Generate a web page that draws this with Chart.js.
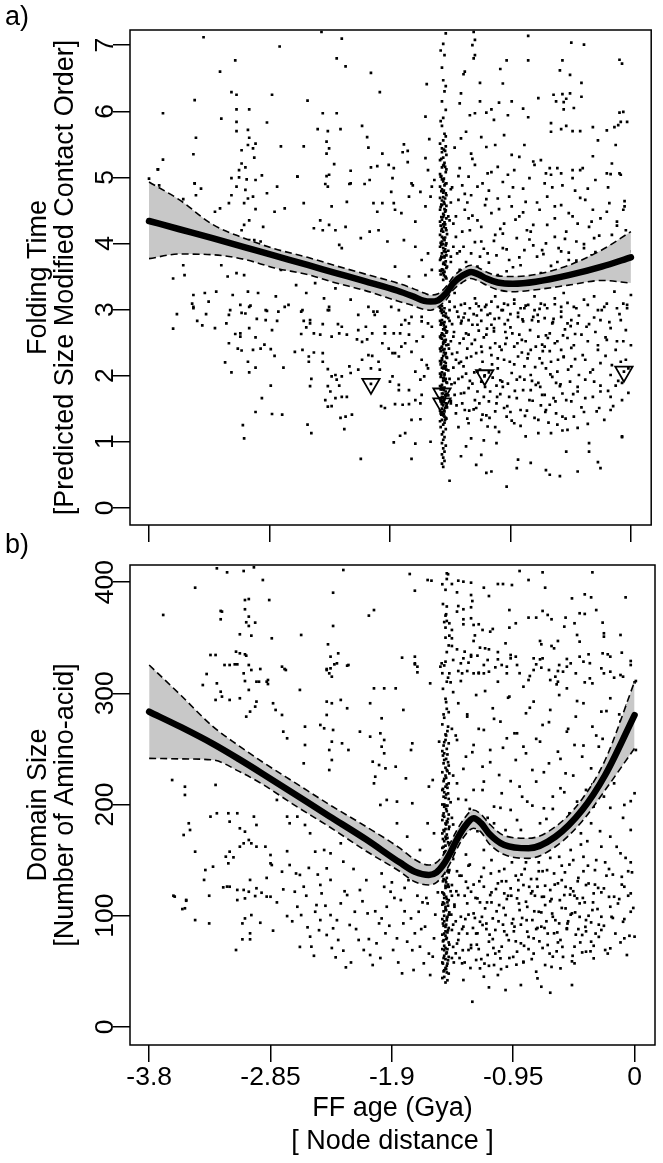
<!DOCTYPE html>
<html><head><meta charset="utf-8">
<script src="https://cdn.jsdelivr.net/npm/chart.js@4.4.1/dist/chart.umd.min.js"></script>
<style>
html,body{margin:0;padding:0;background:#fff;}
#wrap{position:relative;width:663px;height:1163px;overflow:hidden;background:#fff}
canvas{position:absolute;left:0}
#ca{top:0}
#cb{top:530px}
</style></head><body>
<div id="wrap"><canvas id="ca" width="663" height="546"></canvas><canvas id="cb" width="663" height="633"></canvas></div>
<script>
// ---------- axis ticks ----------
const xTicks = [-3.8, -2.85, -1.9, -0.95, 0];
const xTickLabels = ['-3.8', '-2.85', '-1.9', '-0.95', '0'];
const yTicksA = [0, 1, 2, 3, 4, 5, 6, 7];
const yTicksB = [0, 100, 200, 300, 400];

// ---------- panel a: smooth fit and confidence band ----------
const curveXA = [-3.8,-3.56,-3.30,-3.05,-2.81,-2.55,-2.34,-2.1,-1.84,-1.72,-1.63,-1.58,-1.52,-1.46,-1.40,-1.33,-1.26,-1.20,-1.14,-1.05,-0.93,-0.75,-0.49,-0.23,0];
const fitA   = [4.34,4.215,4.08,3.945,3.815,3.675,3.56,3.43,3.285,3.20,3.13,3.12,3.14,3.24,3.40,3.51,3.57,3.53,3.47,3.41,3.39,3.42,3.52,3.65,3.79];
const upperA = [4.93,4.66,4.29,4.08,3.92,3.79,3.67,3.54,3.40,3.32,3.25,3.22,3.24,3.34,3.50,3.61,3.67,3.63,3.57,3.51,3.50,3.53,3.67,3.90,4.18];
const lowerA = [3.77,3.84,3.83,3.76,3.63,3.53,3.41,3.29,3.13,3.06,3.00,2.99,3.04,3.14,3.30,3.41,3.47,3.43,3.37,3.30,3.27,3.30,3.37,3.44,3.40];
const trianglesA = [[-2.05,1.875],[-1.49,1.73],[-1.49,1.58],[-1.153,2.006],[-0.055,2.06]];

// ---------- panel a: scatter ----------
const aUpperLeft = [[-3.37,7.12],[-3.12,6.77],[-3.24,6.60],[-3.44,6.17],[-3.69,5.97],[-3.23,5.89],[-3.15,6.29],[-3.11,6.25],[-3.11,6.03],[-3.01,6.03],[-3.11,5.84],[-3.11,5.70],[-3.02,5.72],[-3.01,5.60],[-2.96,5.51],[-3.02,5.49],[-2.98,5.44],[-3.07,5.41],[-2.97,5.30],[-3.43,5.60],[-3.45,5.35],[-3.69,5.27],[-3.73,5.12],[-3.07,5.21],[-3.04,5.15],[-3.09,5.11],[-2.91,5.03],[-3.15,4.99],[-3.03,4.97],[-3.44,4.91],[-2.87,5.83],[-2.83,6.25],[-2.77,6.98],[-2.76,5.47],[-2.58,5.47],[-2.55,6.16],[-2.63,5.01],[-2.44,7.20],[-2.28,7.10],[-2.32,6.80],[-2.25,6.68],[-2.05,6.58],[-1.98,6.29],[-2.43,5.97],[-2.32,5.97],[-2.47,5.73],[-2.39,5.70],[-2.29,5.73],[-2.40,5.54],[-2.38,5.44],[-2.40,5.36],[-2.34,5.20],[-2.40,5.02],[-2.41,4.90],[-2.12,5.78],[-2.08,5.61],[-2.07,5.45],[-1.96,5.36],[-2.05,5.15],[-2.00,5.17],[-2.21,5.10],[-2.06,4.96],[-2.10,4.90],[-2.22,4.90],[-1.88,4.99],[-1.79,5.50],[-1.76,5.40],[-1.80,5.38],[-1.76,5.23],[-1.72,4.88],[-1.61,6.41],[-1.62,5.92],[-1.59,5.58],[-1.62,5.29],[-1.57,4.86]];
const aCenterLeft = [[-3.80,4.98],[-3.72,4.88],[-3.73,5.12],[-3.53,4.67],[-3.43,4.73],[-3.44,4.91],[-3.39,4.83],[-3.28,4.48],[-3.24,4.53],[-3.17,4.61],[-3.15,4.73],[-3.11,4.86],[-3.09,5.00],[-3.04,4.81],[-3.05,4.61],[-3.02,4.68],[-2.98,4.71],[-2.96,4.96],[-2.96,4.52],[-3.05,4.28],[-3.07,4.20],[-3.01,4.35],[-2.90,4.25],[-3.01,4.05],[-2.97,4.05],[-2.92,4.03],[-2.87,4.76],[-2.81,4.48],[-2.79,4.86],[-2.73,4.53],[-2.63,5.01],[-2.58,4.61],[-2.50,4.23],[-2.45,4.35],[-2.43,4.20],[-2.39,4.86],[-2.38,5.04],[-2.36,4.56],[-2.38,4.28],[-2.33,4.20],[-2.24,4.63],[-2.25,4.25],[-2.30,3.98],[-2.28,3.93],[-2.21,4.91],[-2.13,4.08],[-2.06,4.18],[-2.03,4.61],[-2.00,4.48],[-1.99,4.20],[-1.96,4.61],[-1.92,4.03],[-1.91,5.19],[-1.89,4.78],[-1.86,4.51],
[-3.61,3.47],[-3.52,3.52],[-3.53,3.67],[-3.45,3.22],[-3.45,3.02],[-3.36,3.25],[-3.27,3.27],[-3.23,3.67],[-3.18,3.50],[-3.14,3.22],[-3.11,3.55],[-3.05,3.52],[-3.02,3.27],[-3.01,3.04],[-2.94,3.25],[-2.88,2.99],[-2.80,3.20],[-2.76,3.60],[-2.73,3.04],[-2.64,3.37],[-2.59,2.99],[-2.56,3.25],[-2.53,2.84],[-2.49,3.40],[-2.42,3.17],[-2.38,2.99],[-2.33,3.32],[-2.28,2.74],[-2.21,3.15],[-2.15,2.92],[-2.07,3.04],[-2.04,3.35],[-2.00,2.97],[-1.94,2.74],[-1.89,3.04]];
const aLowerLeft = [[-3.58,2.93],[-3.61,2.71],[-3.45,3.04],[-3.46,3.09],[-3.35,2.93],[-3.38,2.76],[-3.42,2.83],[-3.28,2.72],[-3.33,3.12],[-3.19,2.79],[-3.17,2.92],[-3.16,2.99],[-3.07,2.95],[-3.04,2.94],[-3.08,3.07],[-3.00,3.06],[-3.12,2.63],[-3.08,2.64],[-3.08,2.59],[-3.01,2.72],[-2.96,2.58],[-2.95,2.86],[-2.88,2.84],[-2.87,2.98],[-2.83,2.69],[-2.79,2.83],[-2.78,2.97],[-3.17,2.49],[-3.10,2.41],[-3.07,2.38],[-2.98,2.39],[-2.92,2.41],[-2.89,2.47],[-2.84,2.40],[-2.81,2.30],[-3.20,2.20],[-3.15,2.05],[-3.02,2.21],[-3.01,2.05],[-2.96,2.12],[-2.74,2.12],[-2.84,1.85],[-2.91,1.66],[-2.96,1.45],[-2.83,1.42],[-2.75,1.41],[-3.06,1.25],[-3.05,1.05],
[-2.70,3.07],[-2.60,2.97],[-2.60,2.63],[-2.58,2.83],[-2.53,2.79],[-2.56,2.73],[-2.50,2.64],[-2.45,2.62],[-2.39,2.99],[-2.38,3.04],[-2.43,2.78],[-2.31,2.78],[-2.36,2.59],[-2.30,2.64],[-2.24,2.62],[-2.15,2.69],[-2.09,2.74],[-2.03,2.97],[-2.02,2.92],[-2.04,2.64],[-2.08,2.55],[-2.12,2.51],[-2.16,2.55],[-1.94,2.74],[-1.96,2.49],[-1.94,2.64],
[-2.65,2.36],[-2.59,2.39],[-2.54,2.29],[-2.50,2.35],[-2.43,2.34],[-2.54,2.21],[-2.43,2.21],[-2.39,2.10],[-2.36,1.99],[-2.33,2.01],[-2.32,1.94],[-2.28,1.99],[-2.30,1.85],[-2.39,1.84],[-2.37,1.76],[-2.33,1.66],[-2.41,1.63],[-2.39,1.53],[-2.36,1.54],[-2.22,2.14],[-2.21,2.04],[-2.28,1.68],[-2.24,1.68],[-2.15,2.09],[-2.07,2.31],[-2.05,2.11],[-1.99,2.21],[-1.98,2.09],[-2.29,1.36],[-2.25,1.38],[-2.20,1.41],[-2.26,1.19],[-2.55,1.26],[-2.52,1.13],[-2.53,1.84],[-2.52,1.95],[-2.12,2.24],[-2.04,2.30],[-2.13,0.74]];
const aNearStrip = [[-1.97,1.54],[-1.94,1.51],[-1.86,1.57],[-1.80,1.56],[-1.75,1.57],[-1.88,1.99],[-1.90,1.91],[-1.83,1.86],[-1.75,1.78],[-1.83,1.78],[-1.70,2.06],[-1.66,1.94],[-1.63,1.99],[-1.61,2.16],[-1.60,2.11],[-1.65,2.24],[-1.73,2.36],[-1.78,2.49],[-1.81,2.44],[-1.83,2.29],[-1.86,2.34],[-1.69,2.52],[-1.64,2.59],[-1.65,2.82],[-1.60,2.79],[-1.73,2.89],[-1.78,2.84],[-1.81,2.77],[-1.82,2.64],[-1.87,2.64],[-1.75,2.62],[-1.91,2.41],[-1.88,2.34],[-1.73,1.33],[-1.66,1.34],[-1.87,0.99],[-1.82,1.09],[-1.78,1.13],[-1.70,0.97],[-1.58,1.00],[-1.73,0.74],[-1.65,1.71],[-1.70,1.63],[-1.66,1.58],
[-1.87,4.61],[-1.81,4.46],[-1.75,4.71],[-1.70,4.33],[-1.66,4.78],[-1.62,4.56],[-1.58,4.71],[-1.79,4.05],[-1.70,3.95],[-1.65,3.75],[-1.60,3.85],[-1.86,3.65],[-1.75,3.50],[-1.62,3.52],[-1.57,3.60],[-1.83,2.99],[-1.75,2.79],[-1.65,2.89],[-1.57,2.74],[-1.87,5.14],[-1.73,4.91],[-1.60,5.11],[-1.55,4.96]];
const aStrip = [[-1.48,0.62],[-1.49,0.67],[-1.47,0.71],[-1.48,0.76],[-1.49,0.81],[-1.47,0.85],[-1.48,0.90],[-1.46,0.94],[-1.49,0.98],[-1.48,1.03],[-1.47,1.07],[-1.49,1.11],[-1.48,1.15],[-1.46,1.19],[-1.50,1.22],[-1.48,1.26],[-1.47,1.29],[-1.49,1.33],[-1.46,1.36],[-1.48,1.40],[-1.50,1.43],[-1.47,1.46],[-1.49,1.50],[-1.45,1.52],[-1.48,1.55],[-1.46,1.58],[-1.50,1.61],[-1.47,1.64],[-1.49,1.68],[-1.44,1.70],[-1.48,1.73],[-1.46,1.76],[-1.50,1.79],[-1.47,1.82],[-1.49,1.86],[-1.45,1.89],[-1.48,1.92],[-1.46,1.95],[-1.50,1.98],[-1.47,2.01],[-1.49,2.05],[-1.44,2.08],[-1.48,2.11],[-1.46,2.14],[-1.50,2.17],[-1.47,2.21],[-1.49,2.24],[-1.45,2.27],[-1.48,2.30],[-1.46,2.34],[-1.50,2.37],[-1.47,2.40],[-1.49,2.44],[-1.44,2.47],[-1.48,2.50],[-1.46,2.54],[-1.50,2.57],[-1.47,2.60],[-1.49,2.64],[-1.45,2.67],[-1.48,2.70],[-1.46,2.74],[-1.50,2.77],[-1.47,2.81],[-1.49,2.84],[-1.44,2.87],[-1.48,2.91],[-1.46,2.94],[-1.50,2.98],[-1.47,3.02],[-1.49,3.05],[-1.48,3.45],[-1.46,3.49],[-1.50,3.53],[-1.47,3.57],[-1.49,3.61],[-1.45,3.65],[-1.48,3.69],[-1.46,3.73],[-1.50,3.77],[-1.47,3.81],[-1.49,3.85],[-1.44,3.89],[-1.48,3.93],[-1.46,3.97],[-1.50,4.01],[-1.47,4.05],[-1.49,4.10],[-1.45,4.14],[-1.48,4.18],[-1.46,4.23],[-1.50,4.27],[-1.47,4.32],[-1.49,4.36],[-1.44,4.41],[-1.48,4.45],[-1.46,4.50],[-1.50,4.55],[-1.47,4.60],[-1.49,4.65],[-1.48,4.70],[-1.46,4.76],[-1.49,4.82],[-1.47,4.88],[-1.48,4.94],[-1.50,5.01],[-1.46,5.08],[-1.49,5.15],[-1.47,5.22],[-1.48,5.30],[-1.49,5.38],[-1.46,5.47],[-1.48,5.56],[-1.47,5.66],[-1.49,5.78],[-1.48,5.90],[-1.46,6.02],[-1.49,6.15],[-1.47,6.30],[-1.48,6.47],[-1.49,6.66],[-1.47,6.85],[-1.48,7.02],[-1.46,7.18],
[-1.47,1.38],[-1.49,1.57],[-1.48,1.81],[-1.47,2.03],[-1.49,2.26],[-1.48,2.48],[-1.47,2.72],[-1.49,2.95],[-1.48,3.55],[-1.47,3.79],[-1.49,4.03],[-1.48,4.29],[-1.47,4.52],[-1.48,1.67],[-1.46,2.19],[-1.48,2.62],[-1.46,3.87],[-1.48,4.08],[-1.43,1.95],[-1.42,2.52],[-1.43,3.12],[-1.42,3.72],[-1.43,4.35],[-1.42,1.62],[-1.43,2.83],[-1.42,4.82]];
const aStripDense = [[-1.505,1.31],[-1.455,1.35],[-1.475,1.42],[-1.505,1.47],[-1.455,1.54],[-1.475,1.60],[-1.505,1.66],[-1.455,1.72],[-1.475,1.78],[-1.505,1.84],[-1.455,1.90],[-1.475,1.97],[-1.505,2.03],[-1.455,2.09],[-1.475,2.15],[-1.505,2.22],[-1.455,2.28],[-1.475,2.35],[-1.505,2.41],[-1.455,2.46],[-1.475,2.53],[-1.505,2.59],[-1.455,2.65],[-1.475,2.76],[-1.505,2.83],[-1.455,2.89],[-1.475,2.97],[-1.505,3.03],[-1.455,3.47],[-1.475,3.52],[-1.505,3.59],[-1.455,3.63],[-1.475,3.71],[-1.505,3.75],[-1.455,3.82],[-1.475,3.88],[-1.505,3.95],[-1.455,4.00],[-1.475,4.07],[-1.505,4.13],[-1.455,4.20],[-1.475,4.25],[-1.505,4.33],[-1.455,4.38],[-1.475,4.43],[-1.505,4.51],[-1.455,4.57],[-1.475,4.63],[-1.505,4.69],[-1.455,4.73],[-1.475,4.80],[-1.505,4.86],[-1.455,4.91],[-1.475,4.98],[-1.505,5.05],[-1.455,5.12],[-1.475,5.19],[-1.505,5.26],[-1.455,5.34],[-1.475,5.42],[-1.505,5.51],
[-1.49,1.45],[-1.48,1.62],[-1.49,1.79],[-1.48,1.96],[-1.49,2.12],[-1.48,2.39],[-1.49,2.56],[-1.48,2.79],[-1.49,3.00],[-1.48,3.60],[-1.49,3.79],[-1.48,3.99],[-1.49,4.22],[-1.48,4.40],[-1.49,4.58],[-1.48,4.77],[-1.49,4.97],[-1.48,5.18],[-1.49,5.44],[-1.46,5.62],[-1.50,5.85],[-1.46,6.38],[-1.50,6.92],
[-1.465,1.33],[-1.495,1.41],[-1.465,1.51],[-1.495,1.63],[-1.465,1.70],[-1.495,1.83],[-1.465,1.93],[-1.495,2.01],[-1.465,2.11],[-1.495,2.20],[-1.465,2.32],[-1.495,2.42],[-1.465,2.51],[-1.495,2.61],[-1.465,2.69],[-1.495,2.80],[-1.465,2.90],[-1.495,2.99],[-1.465,3.50],[-1.495,3.58],[-1.465,3.68],[-1.495,3.80],[-1.465,3.91],[-1.495,3.98],[-1.465,4.09],[-1.495,4.19],[-1.465,4.29],[-1.495,4.40],[-1.465,4.48],[-1.495,4.59],[-1.465,4.68],[-1.495,4.79],[-1.465,4.90],[-1.495,5.02],[-1.465,5.16],[-1.495,5.28],[-1.465,5.40]];
const aUpperRight = [[-1.24,7.20],[-1.23,7.08],[-1.25,7.00],[-1.23,6.85],[-1.24,6.80],[-1.31,6.60],[-1.32,6.56],[-1.19,6.43],[-1.34,6.27],[-1.35,6.12],[-1.27,5.94],[-1.23,5.97],[-1.19,6.15],[-1.10,6.03],[-1.14,5.98],[-1.08,5.87],[-1.04,6.13],[-1.01,6.42],[-1.03,6.64],[-0.98,6.77],[-0.94,6.15],[-0.97,5.94],[-0.81,7.14],[-0.81,6.77],[-0.73,6.20],[-0.85,6.04],[-0.81,5.91],[-0.47,7.04],[-0.37,7.01],[-0.54,6.77],[-0.56,6.62],[-0.48,6.55],[-0.39,6.43],[-0.61,6.25],[-0.54,6.26],[-0.48,6.27],[-0.59,6.15],[-0.53,6.14],[-0.51,6.19],[-0.39,6.22],[-0.53,6.03],[-0.45,6.05],[-0.09,6.78],[-0.07,6.72],[-0.09,5.98],[-0.08,5.84],[-0.13,5.76],[-0.10,5.79],[-0.63,5.82],[-0.63,5.69],[-0.55,5.73],[-0.51,5.78],[-0.46,5.70],[-0.40,5.70],[-0.30,5.76],
[-1.30,5.69],[-1.34,5.59],[-1.26,5.36],[-1.18,5.61],[-1.14,5.46],[-1.07,5.49],[-1.00,5.64],[-0.94,5.34],[-0.88,5.31],[-0.84,5.49],[-0.77,5.24],[-0.71,5.26],[-0.67,5.06],[-0.64,5.14],[-0.55,5.06],[-0.46,5.11],[-0.38,5.14],[-0.30,5.32],[-0.26,5.56],[-0.19,5.71],[-0.15,5.21],[-0.12,5.49],[-0.16,5.05],[-0.09,5.06],[-0.03,5.84],[-0.06,5.99],
[-1.35,5.14],[-1.28,5.01],[-1.23,5.19],[-1.17,4.91],[-1.13,5.06],[-1.05,5.16],[-1.01,4.93],[-0.97,5.04],[-0.92,5.11],[-0.85,4.83],[-0.80,4.99],[-0.76,5.19],[-0.68,4.91],[-0.63,5.04],[-0.58,5.14],[-0.54,4.88],[-0.46,4.99],[-0.40,5.11],[-0.34,4.83],[-0.28,4.96],[-0.19,5.06],[-0.08,5.04],[-0.05,4.56],
[-1.36,4.66],[-1.31,4.51],[-1.26,4.73],[-1.21,4.35],[-1.15,4.58],[-1.10,4.46],[-1.05,4.68],[-1.00,4.30],[-0.94,4.56],[-0.88,4.41],[-0.83,4.63],[-0.77,4.28],[-0.72,4.51],[-0.66,4.71],[-0.60,4.38],[-0.55,4.58],[-0.49,4.46],[-0.42,4.30],[-0.36,4.66],[-0.30,4.51],[-0.24,4.38],[-0.17,4.61],[-0.11,4.33],[-0.06,4.51],
[-1.38,4.10],[-1.32,3.95],[-1.27,4.20],[-1.18,4.03],[-1.13,3.85],[-1.07,4.13],[-1.01,3.93],[-0.96,3.75],[-0.90,4.08],[-0.84,3.90],[-0.79,4.18],[-0.74,3.80],[-0.67,4.00],[-0.60,4.10],[-0.55,3.88],[-0.49,3.75],[-0.43,4.03],[-0.37,3.93],[-0.29,4.08],[-0.21,3.85],[-0.15,4.13],[-0.08,3.98],
[-1.35,3.60],[-1.21,3.65],[-1.05,3.52],[-0.87,3.67],[-0.71,3.55],[-0.55,3.60],[-0.40,3.52],[-0.24,3.62],[-0.08,3.55],
[-1.41,4.85],[-1.39,5.45],[-1.42,3.80],[-1.40,4.30],[-1.33,4.88],[-1.25,4.42],[-1.19,3.80],[-1.12,4.80],[-1.03,4.22],[-0.93,4.85],[-0.82,4.20],[-0.70,3.90],[-0.62,4.85],[-0.51,4.18],[-0.44,4.80],[-0.33,4.25],[-0.26,3.72],[-0.18,4.85],[-0.04,4.20],[-1.37,3.85],[-1.29,4.62],[-0.98,3.58],[-0.58,3.72],[-0.31,3.82]];
const aLowerRight = [[-1.39,3.25],[-1.31,3.09],[-1.23,3.17],[-1.15,3.04],[-1.07,3.20],[-1.00,3.09],[-0.92,3.15],[-0.84,3.02],[-0.76,3.20],[-0.68,3.07],[-0.60,3.17],[-0.53,3.25],[-0.45,3.04],[-0.37,3.15],[-0.29,3.20],[-0.21,3.04],[-0.13,3.27],[-0.06,3.09],[0.00,3.22],
[-1.43,2.99],[-1.39,3.04],[-1.36,2.89],[-1.34,3.07],[-1.31,2.94],[-1.27,3.02],[-1.22,3.09],[-1.18,2.99],[-1.14,3.07],[-1.10,3.12],[-1.11,2.94],[-1.05,3.04],[-1.01,2.99],[-0.97,3.07],[-0.92,3.09],[-0.87,3.02],[-0.81,3.07],[-0.76,2.99],[-0.71,3.09],[-0.66,3.02],[-0.60,3.08],[-0.55,3.04],[-0.50,3.10],[-0.43,3.02],[-0.34,3.07],[-0.26,2.99],[-0.19,3.09],[-0.11,3.02],[-0.03,3.07],
[-1.34,2.79],[-1.28,2.84],[-1.21,2.77],[-1.18,2.83],[-1.10,2.77],[-1.04,2.87],[-0.97,2.84],[-0.89,2.89],[-0.85,2.82],[-0.77,2.89],[-0.73,2.82],[-0.68,2.87],[-0.62,2.79],[-0.55,2.89],[-0.47,2.84],[-0.42,2.79],[-0.33,2.78],[-0.24,2.84],[-0.16,2.72],[-0.08,2.84],[-0.04,2.69],
[-1.40,2.59],[-1.35,2.49],[-1.30,2.64],[-1.23,2.54],[-1.18,2.44],[-1.14,2.62],[-1.07,2.49],[-1.02,2.39],[-0.98,2.57],[-0.92,2.44],[-0.88,2.62],[-0.83,2.52],[-0.79,2.39],[-0.73,2.59],[-0.68,2.44],[-0.64,2.64],[-0.60,2.49],[-0.55,2.39],[-0.50,2.57],[-0.45,2.46],[-0.39,2.62],[-0.34,2.52],[-0.26,2.39],[-0.19,2.54],[-0.11,2.52],[0.00,2.46],
[-1.38,2.24],[-1.32,2.14],[-1.26,2.29],[-1.21,2.06],[-1.17,2.21],[-1.10,2.31],[-1.05,2.11],[-1.00,2.24],[-0.94,2.04],[-0.89,2.29],[-0.84,2.14],[-0.79,2.01],[-0.72,2.26],[-0.67,2.11],[-0.63,2.21],[-0.58,2.06],[-0.53,2.29],[-0.47,2.14],[-0.41,2.01],[-0.36,2.24],[-0.30,2.09],[-0.24,2.19],[-0.16,2.01],[-0.08,2.21],[-0.02,2.11],
[-1.39,1.89],[-1.34,1.73],[-1.28,1.81],[-1.23,1.63],[-1.18,1.91],[-1.11,1.76],[-1.06,1.58],[-1.01,1.83],[-0.96,1.68],[-0.90,1.94],[-0.85,1.78],[-0.80,1.63],[-0.75,1.86],[-0.70,1.71],[-0.64,1.56],[-0.59,1.89],[-0.54,1.73],[-0.47,1.61],[-0.42,1.83],[-0.36,1.66],[-0.29,1.91],[-0.24,1.76],[-0.16,1.68],[-0.07,1.89],
[-1.38,1.43],[-1.31,1.48],[-1.28,1.28],[-1.22,1.51],[-1.18,1.33],[-1.13,1.23],[-1.07,1.46],[-1.04,1.15],[-0.98,1.38],[-0.92,1.28],[-0.87,1.48],[-0.83,1.08],[-0.73,1.33],[-0.67,1.48],[-0.63,1.13],[-0.58,1.26],[-0.54,1.38],[-0.50,1.18],[-0.42,1.21],[-0.33,0.98],[-0.25,1.51],[-0.16,1.48],[-0.07,1.08],
[-1.43,0.41],[-1.34,0.78],[-1.30,0.93],[-1.22,0.65],[-1.18,0.80],[-1.14,0.53],[-1.10,0.55],[-1.06,0.98],[-0.98,0.32],[-0.90,0.60],[-0.89,0.73],[-0.79,0.68],[-0.73,1.13],[-0.67,0.57],[-0.64,0.50],[-0.56,0.48],[-0.51,0.85],[-0.42,0.55],[-0.33,0.85],[-0.26,0.69],[-0.24,0.60],[-0.07,1.07],
[-1.41,2.78],[-1.37,2.35],[-1.33,1.98],[-1.29,2.41],[-1.25,1.88],[-1.20,2.68],[-1.16,1.68],[-1.12,2.05],[-1.08,2.72],[-1.03,1.93],[-0.99,2.66],[-0.95,1.45],[-1.42,1.58],[-1.36,1.22],[-1.26,1.05],[-1.16,1.02],[-1.40,2.12],[-1.32,2.56],[-1.24,2.93],[-1.14,1.40],[-1.06,1.85],[-0.95,2.93],[-0.86,2.35],[-0.78,1.92],[-0.70,2.47],[-0.61,1.66],[-0.52,2.70],[-0.44,2.25],[-0.37,1.45],[-0.28,2.66],[-0.20,2.30],[-0.12,1.85]];
const aRightDense = [[-1.42,4.62],[-1.40,3.95],[-1.41,2.33],[-1.39,1.71],[-1.38,4.41],[-1.37,2.97],[-1.36,1.95],[-1.36,5.02],[-1.35,3.88],[-1.34,2.21],[-1.33,4.18],[-1.33,1.58],[-1.32,2.88],[-1.31,4.75],[-1.30,2.03],[-1.30,3.72],[-1.29,1.35],[-1.28,2.62],[-1.28,4.38],[-1.27,1.92],[-1.26,3.85],[-1.25,2.77],[-1.25,5.28],[-1.24,1.49],[-1.23,4.02],[-1.22,2.34],[-1.21,1.76],[-1.21,4.86],[-1.20,3.05],[-1.19,2.09],[-1.18,4.25],[-1.17,1.41],[-1.16,2.58],[-1.16,3.92],[-1.15,1.83],[-1.14,4.67],[-1.13,2.92],[-1.12,1.61],[-1.12,3.71],[-1.11,2.42],[-1.10,5.08],[-1.09,1.97],[-1.08,4.04],[-1.08,2.67],[-1.07,1.22],[-1.06,3.82],[-1.05,2.26],[-1.04,4.52],[-1.03,1.72],[-1.02,2.99],[-1.01,4.15],[-1.00,1.51],[-0.99,2.48],[-0.98,3.91],[-0.97,1.88],[-0.96,4.71],[-0.95,2.73],[-0.94,1.32],[-0.93,3.64],[-0.92,2.17],[-0.91,4.36],[-0.90,1.66],[-0.89,2.95],[-0.88,3.79],[-0.87,1.24],[-0.86,2.54],[-0.85,4.47],[-0.84,1.94],[-0.83,3.06],[-0.82,1.47],[-0.81,2.33],[-0.80,4.06],[-0.79,1.78],[-0.78,2.84],[-0.77,3.97],[-0.76,1.36],[-0.75,2.44],[-0.74,4.62],[-0.73,1.89],[-0.72,3.01],[-0.71,1.55],[-0.70,2.19],[-0.69,3.84],[-0.68,1.71],[-0.67,2.61],[-0.66,4.28],[-0.65,1.29],[-0.64,2.37],[-0.63,3.66],[-0.62,1.98],[-0.61,2.86],[-0.60,4.56],[-0.59,1.43],[-0.58,2.52],[-0.57,3.93],[-0.56,1.84],[-0.55,2.97],[-0.54,1.17],[-0.53,2.28],[-0.52,4.07],[-0.51,1.63],[-0.50,2.79],[-0.49,3.86],[-0.48,1.91],[-0.47,2.42],[-0.46,4.41],[-0.45,1.38],[-0.44,2.63],[-0.43,3.74],[-0.42,1.76],[-0.41,2.91],[-0.40,4.69],[-0.39,1.52],[-0.38,2.31],[-0.37,3.99],[-0.36,1.94],[-0.35,2.74],[-0.34,1.27],[-0.33,3.61],[-0.32,2.05],[-0.31,4.33],[-0.30,1.68],[-0.29,2.88],[-0.28,3.87],[-0.27,1.46],[-0.26,2.46],[-0.25,4.12],[-0.24,1.85],[-0.23,2.99],[-0.22,3.72],[-0.21,1.33],[-0.20,2.58],[-0.19,4.48],[-0.18,1.77],[-0.17,2.81],[-0.16,3.95],[-0.15,2.16],[-0.14,1.54],[-0.13,3.68],[-0.12,2.39],[-0.11,4.27],[-0.10,1.92],[-0.09,2.93],[-0.08,3.81],[-0.07,1.63],[-0.06,2.52],[-0.05,4.64],[-0.04,2.24],[-0.03,3.02],[-0.02,1.74],[-0.01,3.88],
[-1.435,2.41],[-1.415,1.87],[-1.395,2.66],[-1.375,1.55],[-1.355,2.19],[-1.335,2.83],[-1.315,1.74],[-1.295,2.27],[-1.275,1.47],[-1.255,2.48],[-1.235,2.05],[-1.215,2.91],[-1.195,1.58],[-1.175,2.36],[-1.155,1.99],[-1.135,2.71],[-1.115,1.36],[-1.095,2.17],[-1.075,2.86],[-1.055,1.68],[-1.035,2.44],[-1.015,1.91],[-0.995,2.78],[-0.975,1.54],[-0.955,2.21],[-0.935,2.64],[-0.915,1.77],[-0.895,2.49],[-0.875,1.98],[-0.855,2.85],[-0.835,1.39],[-0.815,2.26],[-0.795,2.69],[-0.775,1.62],[-0.755,2.13],[-0.735,2.92],[-0.715,1.83],[-0.695,2.37],[-0.675,1.45],[-0.655,2.57],[-0.635,2.02],[-0.615,2.81],[-0.595,1.61],[-0.575,2.24],[-0.555,1.87],[-0.535,2.61],[-0.515,1.35],[-0.495,2.09],[-0.475,2.75],[-0.455,1.72]];

// ---------- panel b: smooth fit and confidence band ----------
const curveXB = [-3.8,-3.55,-3.30,-3.1,-2.91,-2.65,-2.39,-2.1,-1.84,-1.72,-1.61,-1.55,-1.49,-1.44,-1.40,-1.33,-1.26,-1.20,-1.14,-1.02,-0.83,-0.62,-0.41,-0.23,0];
const fitB   = [283.4,269.5,254.5,241,227.5,208.5,189.5,168.5,148,139.5,136.6,139,147,157,166.6,180,187.6,183,174,163.6,160.6,171,195,226.5,280.4];
const upperB = [325.4,298,270,253,238,219,200,180,161,150.5,145.6,148,156,166,175,188,195,191,183,172,169.6,180,205,240,310.4];
const lowerB = [241.5,241,240,230,218,198.5,180,158,140,130.5,127.6,130,138,148,158,172,178.6,175,165,155,151.6,162,185,213,250.5];

// ---------- panel b: scatter ----------
const bUpperLeft = [[-3.69,370.4],[-3.44,394.9],[-3.27,412.3],[-3.19,408.7],[-3.06,409.9],[-2.98,413.2],[-2.91,401.8],[-3.05,383.8],[-3.02,384.7],[-2.86,383.8],[-3.24,374.0],[-3.23,373.4],[-3.24,366.5],[-3.05,375.5],[-3.02,368.9],[-3.04,363.8],[-2.97,363.5],[-3.02,360.5],[-3.09,353.0],[-3.00,351.8],[-2.84,349.4],[-2.61,352.4],[-3.32,334.4],[-3.28,334.4],[-3.12,337.4],[-3.09,335.9],[-3.05,335.0],[-3.04,333.8],[-3.21,325.4],[-3.17,325.4],[-3.13,326.0],[-3.11,326.0],[-3.02,325.4],[-3.00,320.9],[-2.93,321.8],[-3.35,317.3],[-3.06,317.9],[-3.27,308.9],[-3.05,311.0],[-2.96,310.4],[-2.87,311.9],[-2.74,321.8],[-2.36,390.4],[-2.36,360.5],[-2.40,344.0],[-2.32,335.9],[-2.41,321.8],[-2.39,317.9],[-2.35,326.0],[-2.37,314.9],[-2.25,324.8],[-2.28,410.8],[-2.08,369.8],[-2.04,374.8]];
const bCenterLeft = [[-3.38,307.4],[-3.02,303.0],[-2.94,310.4],[-2.88,310.4],[-2.87,308.3],[-3.24,301.4],[-3.23,297.0],[-3.28,294.0],[-3.17,294.0],[-3.09,295.5],[-2.96,292.5],[-2.97,288.0],[-3.01,283.5],[-3.04,279.0],[-2.76,323.9],[-2.73,320.9],[-2.38,332.9],[-2.38,322.4],[-2.33,326.9],[-2.24,325.4],[-2.41,320.9],[-2.83,291.0],[-2.81,285.0],[-2.76,280.5],[-2.62,303.0],[-2.41,292.5],[-2.37,291.0],[-2.41,280.5],[-2.46,271.5],[-2.43,268.5],[-2.36,267.0],[-2.58,270.0],[-2.58,253.5],[-2.37,256.5],[-2.29,255.0],[-2.24,249.0],[-2.39,249.0],[-2.37,240.0],[-2.39,231.0],[-2.59,237.0],[-2.75,265.5],[-2.72,259.5],[-2.15,265.5],[-2.07,261.0],[-1.96,258.0],[-1.99,264.0],[-1.98,252.0],[-1.96,246.0],[-2.05,238.5],[-2.00,235.5],[-1.95,232.5],[-2.03,225.0],[-2.04,219.0],[-1.94,204.1],[-1.99,199.6],[-2.04,304.4],[-1.96,304.4],[-1.87,304.4],[-2.07,291.0],[-1.98,277.5],[-2.30,294.0],[-2.25,286.5],
[-3.62,222.0],[-3.52,216.0],[-3.52,208.6],[-3.28,217.6],[-3.27,192.1],[-3.32,189.1],[-3.18,192.1],[-3.17,184.6],[-3.11,192.1],[-3.09,178.6],[-3.05,175.6],[-3.02,168.1],[-3.00,165.1],[-2.96,162.1],[-3.09,162.1],[-3.17,157.6],[-3.14,152.5],[-3.18,147.1],[-3.20,153.1],[-3.30,144.1],[-3.44,157.6],[-3.49,183.1],[-3.48,177.1],[-3.53,172.6],[-3.36,141.1],[-3.37,132.2],[-2.80,204.1],[-2.72,189.1],[-2.70,183.1],[-2.64,189.1],[-2.58,181.6],[-2.54,174.1],[-2.50,157.6],[-2.43,159.1],[-2.38,156.1],[-2.30,165.1],[-2.28,148.6],[-2.41,142.6],[-2.38,132.2],[-2.46,127.7],[-2.62,136.7],[-2.70,145.6],[-2.76,139.6],[-2.85,147.1],[-2.84,145.6],[-2.89,162.1],[-2.85,154.6],[-2.96,181.6],[-2.98,189.1],[-3.06,165.1],[-3.19,126.2],[-3.11,123.2],[-3.06,123.2],[-3.01,132.2],[-2.96,124.7],[-2.88,117.2],[-3.60,117.2],[-3.51,114.2],[-3.52,106.7]];
const bLowerLeft = [[-3.61,118.0],[-3.54,106.0],[-3.51,113.5],[-3.44,96.1],[-3.33,93.1],[-3.33,118.0],[-3.22,125.5],[-3.17,126.1],[-3.12,69.2],[-3.07,93.1],[-3.07,78.8],[-3.05,97.6],[-3.01,84.2],[-3.01,78.8],[-3.00,100.6],[-3.11,114.1],[-3.05,115.6],[-3.02,121.6],[-2.97,117.7],[-2.93,93.7],[-2.92,120.7],[-2.85,117.1],[-2.83,86.6],[-2.75,123.7],[-2.72,99.7],[-2.66,121.6],[-2.64,108.1],[-2.61,100.6],[-2.59,126.1],[-2.56,89.6],[-2.54,81.2],[-2.53,72.2],[-2.50,103.6],[-2.49,109.6],[-2.46,96.1],[-2.45,120.1],[-2.41,82.7],[-2.38,100.6],[-2.36,88.7],[-2.34,62.6],[-2.32,78.2],[-2.30,111.1],[-2.28,68.6],[-2.26,53.6],[-2.25,118.6],[-2.23,91.7],[-2.19,103.6],[-2.16,78.2],[-2.15,123.1],[-2.12,69.2],[-2.09,102.1],[-2.07,64.7],[-2.05,55.7],[-2.02,75.2],[-2.00,93.1],[-1.98,97.6],[-1.95,84.2],[-1.94,108.1],[-1.91,121.6],[-1.89,69.2],[-1.86,79.7],[-1.83,114.1],[-1.82,48.2],[-1.81,93.1],[-1.78,76.7],[-1.75,97.6],[-1.73,51.2],[-1.72,84.2],[-1.69,103.6],[-1.68,72.2],[-1.65,57.2],[-1.64,90.2],[-1.62,111.1],[-1.60,46.7],[-1.58,63.2],[-1.57,79.7],
[-2.68,95],[-2.62,72],[-2.57,118],[-2.51,64],[-2.47,87],[-2.42,109],[-2.37,71],[-2.33,96],[-2.27,122],[-2.22,58],[-2.18,88],[-2.13,113],[-2.08,79],[-2.03,104],[-1.99,62],[-1.96,126],[-1.92,91],[-1.88,116],[-1.85,58],[-1.80,104],[-1.77,132],[-1.74,69],[-1.70,118],[-1.67,88],[-1.63,116],[-1.61,66],[-1.56,101],[-1.54,121],[-2.88,134],[-2.80,112],[-2.72,158],[-2.65,138],[-2.55,143],[-2.48,137],[-2.20,142],[-2.10,132],[-1.98,138],[-1.90,130],[-1.80,125],[-1.66,112]];
const bNearStrip = [[-1.87,234.0],[-1.81,285.0],[-1.74,255.0],[-1.75,249.0],[-1.60,308.9],[-1.58,222.0],[-1.61,216.1],[-1.79,223.5],[-1.86,202.6],[-1.74,201.1],[-1.53,256.5],[-1.52,323.9],[-1.70,323.9],[-1.72,326.9],[-1.57,174.1],[-1.62,183.1],[-1.68,159.1],[-1.86,183.1],[-1.78,171.1],[-1.76,407.2],[-1.72,392.2],[-1.62,401.8],[-1.59,401.2],[-1.72,332.9],[-1.82,332.0],[-1.72,326.0],[-1.70,318.8]];
const bStrip = [[-1.48,40],[-1.49,45],[-1.47,49],[-1.48,53],[-1.50,57],[-1.46,60],[-1.49,64],[-1.47,67],[-1.48,71],[-1.45,74],[-1.50,77],[-1.47,80],[-1.49,84],[-1.46,87],[-1.48,90],[-1.50,93],[-1.47,96],[-1.49,100],[-1.45,103],[-1.48,106],[-1.46,109],[-1.50,112],[-1.47,115],[-1.49,119],[-1.44,122],[-1.48,125],[-1.46,128],[-1.50,131],[-1.47,134],[-1.49,138],[-1.45,141],[-1.48,144],[-1.46,147],[-1.50,150],[-1.47,153],[-1.49,157],[-1.44,160],[-1.48,163],[-1.46,166],[-1.50,169],[-1.47,173],[-1.49,176],[-1.45,180],[-1.48,183],[-1.46,187],[-1.50,190],[-1.47,194],[-1.49,198],[-1.44,202],[-1.48,206],[-1.46,210],[-1.50,214],[-1.47,218],[-1.49,223],[-1.45,228],[-1.48,233],[-1.46,238],[-1.50,244],[-1.47,250],[-1.49,256],[-1.48,263],[-1.46,270],[-1.49,278],[-1.47,286],[-1.48,295],[-1.50,304],[-1.46,314],[-1.49,325],[-1.47,337],[-1.48,350],[-1.49,364],[-1.47,378],[-1.48,393],[-1.46,407],
[-1.47,55],[-1.49,69],[-1.48,82],[-1.47,98],[-1.49,111],[-1.48,127],[-1.47,142],[-1.49,155],[-1.48,171],[-1.47,185],[-1.49,200],[-1.48,216],[-1.47,231],[-1.49,246],[-1.43,62],[-1.42,92],[-1.43,118],[-1.42,151],[-1.43,188],[-1.42,226],[-1.43,268],[-1.42,301],
[-1.47,407.8],[-1.47,402.7],[-1.50,380.2],[-1.48,369.8],[-1.47,365.0],[-1.45,362.9],[-1.48,359.0],[-1.45,351.8],[-1.48,328.4],[-1.51,326.9],[-1.45,317.9],[-1.44,309.8],[-1.47,310.4]];
const bStripDense = [[-1.505,44],[-1.455,48],[-1.475,52],[-1.505,58],[-1.455,63],[-1.475,66],[-1.505,70],[-1.455,76],[-1.475,79],[-1.505,83],[-1.455,89],[-1.475,92],[-1.505,97],[-1.455,101],[-1.475,105],[-1.505,110],[-1.455,114],[-1.475,117],[-1.505,121],[-1.455,126],[-1.475,130],[-1.505,136],[-1.455,139],[-1.475,143],[-1.505,148],[-1.455,152],[-1.475,156],[-1.505,161],[-1.455,165],[-1.475,169],[-1.505,174],[-1.455,178],[-1.475,182],[-1.505,186],[-1.455,191],[-1.475,196],[-1.505,200],[-1.455,205],[-1.475,209],[-1.505,213],[-1.455,219],[-1.475,224],[-1.505,229],[-1.455,235],[-1.475,241],[-1.505,248],[-1.455,255],[-1.475,262],[-1.505,272],[-1.455,283],[-1.475,292],[-1.505,318],[-1.455,343],[-1.475,371],[-1.505,398],
[-1.49,51],[-1.48,61],[-1.49,73],[-1.48,86],[-1.49,95],[-1.48,108],[-1.49,116],[-1.48,132],[-1.49,146],[-1.48,158],[-1.49,167],[-1.48,178],[-1.49,189],[-1.48,199],[-1.49,211],[-1.48,226],[-1.49,240],[-1.48,258],
[-1.465,42],[-1.495,50],[-1.465,57],[-1.495,62],[-1.465,70],[-1.495,78],[-1.465,85],[-1.495,91],[-1.465,99],[-1.495,104],[-1.465,112],[-1.495,120],[-1.465,126],[-1.495,133],[-1.465,140],[-1.495,148],[-1.465,155],[-1.495,162],[-1.465,170],[-1.495,177],[-1.465,184],[-1.495,192],[-1.465,199],[-1.495,207],[-1.465,215],[-1.495,221],[-1.465,230],[-1.495,237],[-1.465,245],[-1.495,253],[-1.465,266],[-1.495,281]];
const bUpperRight = [[-1.43,398.2],[-1.38,401.2],[-1.34,400.3],[-1.28,399.4],[-1.18,394.9],[-1.07,398.2],[-1.03,398.2],[-0.96,397.3],[-0.90,409.9],[-0.83,401.8],[-0.72,408.7],[-0.70,394.9],[-0.33,408.7],[-1.39,390.7],[-1.28,388.3],[-1.27,382.9],[-1.14,387.4],[-1.38,378.4],[-1.34,375.5],[-1.28,377.3],[-1.39,373.4],[-0.98,374.8],[-0.83,368.0],[-0.77,368.0],[-0.72,374.0],[-0.68,370.4],[-0.65,366.5],[-0.54,368.0],[-0.49,385.3],[-0.43,371.9],[-0.39,371.3],[-0.39,388.9],[-0.34,386.2],[-0.30,374.8],[-0.07,386.2],[-1.43,356.9],[-1.34,366.5],[-1.34,362.0],[-1.28,367.4],[-1.26,361.4],[-1.22,362.0],[-1.19,356.9],[-1.13,355.4],[-1.11,357.8],[-0.98,359.0],[-0.93,362.9],[-0.55,359.9],[-0.47,362.9],[-0.25,363.5],[-0.24,353.9],[-0.24,350.9],[-0.11,352.4],[-0.45,352.4],[-0.43,346.4],[-0.60,347.0],[-0.65,342.5],[-0.63,340.4],[-0.73,344.0],[-1.43,349.4],[-1.43,342.5],[-1.39,339.5],[-1.33,337.4],[-1.26,347.0],[-1.21,341.0],[-1.17,340.4],[-1.14,339.5],[-1.01,344.9],[-0.97,334.4],[-0.97,331.4],[-0.92,325.4],[-1.07,330.5],[-1.04,325.4],[-1.09,323.3],[-1.14,319.4],[-1.18,325.4],[-1.23,333.8],[-1.28,332.9],[-1.30,327.5],[-1.34,331.4],[-1.42,329.9],[-1.38,320.0],[-1.35,317.9],[-1.31,320.0],[-1.26,317.9],[-1.22,318.5],[-1.18,317.9],[-1.00,317.9],[-0.79,331.4],[-0.74,330.5],[-0.77,326.0],[-0.73,323.0],[-0.67,320.9],[-0.60,320.0],[-0.56,319.4],[-0.53,323.9],[-0.50,326.9],[-0.43,332.9],[-0.53,330.8],[-0.36,335.0],[-0.25,335.9],[-0.21,335.0],[-0.10,336.5],[-0.03,329.0],[-0.24,317.9],[-0.19,319.4],[-0.09,314.9],[-0.35,313.4],[-0.39,309.8],[-0.62,314.9],[-0.60,310.4],[-0.82,315.5],[-0.83,311.9],[0.00,309.8],[0.01,311.0],
[-1.36,326.9],[-1.28,334.4],[-1.22,317.9],[-1.15,329.9],[-1.07,310.4],[-1.00,323.9],[-0.93,332.9],[-0.87,305.9],[-0.79,320.9],[-0.72,331.4],[-0.66,311.9],[-0.59,325.4],[-0.53,304.4],[-0.46,317.9],[-0.40,328.4],[-0.33,308.9],[-0.26,322.4],[-0.19,332.9],[-0.11,316.4],[-0.03,325.4],
[-1.38,291.0],[-1.31,279.0],[-1.24,298.4],[-1.18,267.0],[-1.11,286.5],[-1.05,274.5],[-0.98,297.0],[-0.92,264.0],[-0.85,282.0],[-0.79,292.5],[-0.72,271.5],[-0.66,285.0],[-0.59,298.4],[-0.53,265.5],[-0.46,279.0],[-0.40,291.0],[-0.33,270.0],[-0.26,283.5],[-0.19,295.5],[-0.11,274.5],[-0.03,267.0],
[-1.39,258.0],[-1.32,243.0],[-1.26,253.5],[-1.19,234.0],[-1.13,249.0],[-1.06,226.5],[-1.00,259.5],[-0.93,240.0],[-0.87,252.0],[-0.80,231.0],[-0.74,256.5],[-0.67,237.0],[-0.60,247.5],[-0.54,228.0],[-0.47,253.5],[-0.41,243.0],[-0.34,232.5],[-0.28,252.0],[-0.21,237.0],[-0.13,246.0],[-0.06,258.0],[0.01,249.0],
[-1.39,219.0],[-1.32,204.1],[-1.26,213.1],[-1.18,220.6],[-1.10,198.1],[-1.04,210.1],[-0.97,195.1],[-0.90,216.1],[-0.84,202.6],[-0.77,220.6],[-0.71,196.6],[-0.64,207.1],[-0.58,214.6],[-0.51,192.1],[-0.45,202.6],[-0.38,213.1],[-0.32,198.1],[-0.24,207.1],[-0.16,219.0],[-0.08,199.6],[0.00,210.1],
[-1.32,177.1],[-1.18,159.1],[-1.10,183.1],[-1.04,166.6],[-0.97,156.1],[-0.89,177.1],[-0.81,162.1],[-0.74,183.1],[-0.66,171.1],[-0.58,180.1],[-0.50,159.1],[-0.42,174.1],[-0.34,183.1],[-0.26,162.1],[-0.19,171.1],[-0.11,156.1],[-0.03,177.1]];
const bLowerRight = [[-1.43,127.6],[-1.38,118.6],[-1.32,130.6],[-1.28,121.6],[-1.23,115.6],[-1.18,126.1],[-1.13,118.6],[-1.07,129.1],[-1.02,120.1],[-0.97,124.6],[-0.92,115.6],[-0.87,127.6],[-0.81,120.1],[-0.76,126.1],[-0.71,117.1],[-0.66,123.1],[-0.60,129.1],[-0.55,118.6],[-0.50,124.6],[-0.45,115.6],[-0.38,127.6],[-0.32,120.1],[-0.24,124.6],[-0.16,117.1],[-0.08,126.1],[-0.03,120.1],
[-1.41,108.1],[-1.36,99.1],[-1.31,111.1],[-1.26,102.1],[-1.21,94.6],[-1.17,106.6],[-1.11,97.6],[-1.06,109.6],[-1.01,100.6],[-0.96,93.1],[-0.90,105.1],[-0.85,112.6],[-0.80,96.1],[-0.75,103.6],[-0.70,109.6],[-0.64,99.1],[-0.59,93.1],[-0.54,106.6],[-0.49,102.1],[-0.43,111.1],[-0.38,96.1],[-0.33,105.1],[-0.26,99.1],[-0.19,108.1],[-0.09,94.6],[-0.03,103.6],
[-1.43,87.2],[-1.38,78.2],[-1.34,90.2],[-1.28,73.7],[-1.23,84.2],[-1.19,91.7],[-1.14,76.7],[-1.09,87.2],[-1.04,72.2],[-1.00,82.7],[-0.94,90.2],[-0.89,75.2],[-0.84,85.7],[-0.79,79.7],[-0.73,90.2],[-0.68,73.7],[-0.63,84.2],[-0.58,78.2],[-0.53,88.7],[-0.47,72.2],[-0.41,82.7],[-0.34,76.7],[-0.26,87.2],[-0.19,70.7],[-0.08,79.7],[0.00,81.2],
[-1.40,66.2],[-1.35,57.2],[-1.30,69.2],[-1.24,60.2],[-1.21,52.7],[-1.15,64.7],[-1.10,55.7],[-1.05,61.7],[-1.00,54.2],[-0.92,67.7],[-0.87,58.7],[-0.77,49.7],[-0.70,55.7],[-0.64,63.2],[-0.58,52.7],[-0.47,57.2],[-0.38,67.7],[-0.32,61.7],[-0.23,69.2],[-0.06,64.7],
[-1.34,42.2],[-1.27,22.7],[-1.18,45.2],[-1.14,35.6],[-1.07,46.7],[-1.01,33.2],[-0.89,37.7],[-0.76,43.7],[-0.73,36.2],[-0.66,30.8],[-0.49,37.7],
[-1.42,72.0],[-1.40,95.0],[-1.39,140.0],[-1.37,62.0],[-1.33,118.0],[-1.31,84.0],[-1.29,146.0],[-1.25,98.0],[-1.22,70.0],[-1.20,135.0],[-1.16,88.0],[-1.12,112.0],[-1.09,66.0],[-1.06,140.0],[-1.03,92.0],[-0.99,118.0],[-0.95,63.0],[-0.91,132.0],[-0.88,98.0],[-0.83,70.0],[-0.80,122.0],[-0.77,88.0],[-0.72,140.0],[-0.69,95.0],[-0.65,115.0],[-0.61,68.0],[-0.57,132.0],[-0.52,95.0],[-0.48,122.0],[-0.44,88.0],[-0.40,140.0],[-0.36,100.0],[-0.31,128.0],[-0.28,92.0],[-0.22,136.0],[-0.17,98.0],[-0.12,115.0],[-0.05,140.0],[-1.30,145.0],[-1.12,150.0],[-1.02,142.0],[-0.93,136.0],[-0.85,148.0],[-0.75,140.0],[-0.66,152.0],[-0.57,145.0],[-0.48,150.0],[-0.40,153.0],[-0.30,150.0],[-0.20,142.0],[-0.10,135.0],[-0.03,148.0]];
const bRightDense = [[-1.42,182],[-1.41,110],[-1.40,262],[-1.39,75],[-1.38,205],[-1.37,136],[-1.36,311],[-1.35,88],[-1.34,232],[-1.33,58],[-1.32,155],[-1.31,281],[-1.30,101],[-1.29,196],[-1.28,71],[-1.27,247],[-1.26,128],[-1.25,352],[-1.24,84],[-1.23,176],[-1.22,268],[-1.21,112],[-1.20,61],[-1.19,213],[-1.18,143],[-1.17,302],[-1.16,93],[-1.15,188],[-1.14,55],[-1.13,238],[-1.12,121],[-1.11,79],[-1.10,277],[-1.09,164],[-1.08,104],[-1.07,337],[-1.06,68],[-1.05,197],[-1.04,131],[-1.03,251],[-1.02,86],[-1.01,177],[-1.00,115],[-0.99,296],[-0.98,62],[-0.97,221],[-0.96,148],[-0.95,97],[-0.94,264],[-0.93,77],[-0.92,186],[-0.91,123],[-0.90,318],[-0.89,92],[-0.88,207],[-0.87,58],[-0.86,142],[-0.85,246],[-0.84,108],[-0.83,81],[-0.82,287],[-0.81,133],[-0.80,199],[-0.79,66],[-0.78,118],[-0.77,259],[-0.76,89],[-0.75,148],[-0.74,347],[-0.73,103],[-0.72,71],[-0.71,229],[-0.70,127],[-0.69,187],[-0.68,84],[-0.67,274],[-0.66,113],[-0.65,54],[-0.64,196],[-0.63,138],[-0.62,96],[-0.61,308],[-0.60,76],[-0.59,153],[-0.58,241],[-0.57,107],[-0.56,63],[-0.55,211],[-0.54,126],[-0.53,88],[-0.52,268],[-0.51,146],[-0.50,101],[-0.49,59],[-0.48,226],[-0.47,118],[-0.46,83],[-0.45,293],[-0.44,134],[-0.43,99],[-0.42,164],[-0.41,67],[-0.40,253],[-0.39,112],[-0.38,86],[-0.37,167],[-0.36,129],[-0.35,327],[-0.34,94],[-0.33,218],[-0.32,73],[-0.31,141],[-0.30,262],[-0.29,106],[-0.28,81],[-0.27,176],[-0.26,121],[-0.25,259],[-0.24,91],[-0.23,148],[-0.22,284],[-0.21,66],[-0.20,117],[-0.19,197],[-0.18,99],[-0.17,137],[-0.16,314],[-0.15,84],[-0.14,162],[-0.13,111],[-0.12,281],[-0.11,76],[-0.10,128],[-0.09,188],[-0.08,97],[-0.07,152],[-0.06,289],[-0.05,118],[-0.04,82],[-0.03,203],[-0.02,139],[-0.01,107],
[-1.435,101],[-1.415,58],[-1.395,122],[-1.375,84],[-1.355,136],[-1.345,69],[-1.325,97],[-1.305,125],[-1.285,53],[-1.265,89],[-1.245,116],[-1.235,74],[-1.215,131],[-1.195,99],[-1.175,57],[-1.155,112],[-1.135,83],[-1.125,138],[-1.105,71],[-1.085,124],[-1.065,95],[-1.045,52],[-1.025,107],[-1.005,131],[-0.985,78],[-0.965,118],[-0.945,86],[-0.925,56],[-0.905,111],[-0.885,137],[-0.865,73],[-0.845,96],[-0.825,126],[-0.805,61],[-0.785,104],[-0.765,133],[-0.745,77],[-0.725,117],[-0.705,89],[-0.685,141],[-0.665,66],[-0.645,102],[-0.625,128],[-0.605,85],[-0.585,114],[-0.565,72],[-0.545,139],[-0.525,93],[-0.505,119],[-0.485,64],[-0.465,103],[-0.445,131],[-0.425,76],[-0.405,116],[-0.385,90],[-0.365,145],[-0.345,68],[-0.325,112],[-0.305,84],[-0.285,125]];

// ---------- rendering ----------
const FONT = '"Liberation Sans", Arial, Helvetica, sans-serif';
Chart.defaults.font.family = FONT;
Chart.defaults.color = '#000';

const toPts = arr => arr.map(p => ({x: p[0], y: p[1]}));
const toLine = (xs, ys) => xs.map((x, i) => ({x: x, y: ys[i]}));

const boxPlugin = {
  id: 'box',
  afterDatasetsDraw(chart) {
    const ctx = chart.ctx, a = chart.chartArea;
    ctx.save();
    ctx.strokeStyle = '#000';
    ctx.lineWidth = 1.5;
    ctx.strokeRect(a.left, a.top, a.right - a.left, a.bottom - a.top);
    ctx.restore();
  }
};

function makePanel(id, o) {
  const tickGrid = {drawOnChartArea: false, drawTicks: true, tickLength: 17, color: '#000', lineWidth: 1.5};
  const datasets = [
    {type: 'scatter', data: toPts(o.points), pointStyle: 'rect', pointRadius: 1.9, pointBackgroundColor: '#000', pointBorderWidth: 0, order: 6},
    {type: 'line', data: toLine(o.cx, o.upper), borderColor: '#000', borderWidth: 1.6, borderDash: [7, 4], pointRadius: 0, fill: '+1', backgroundColor: '#c8c8c8', cubicInterpolationMode: 'monotone', order: 5},
    {type: 'line', data: toLine(o.cx, o.lower), borderColor: '#000', borderWidth: 1.6, borderDash: [7, 4], pointRadius: 0, fill: false, cubicInterpolationMode: 'monotone', order: 4},
    {type: 'line', data: toLine(o.cx, o.fit), borderColor: '#000', borderWidth: 6.5, pointRadius: 0, fill: false, cubicInterpolationMode: 'monotone', borderCapStyle: 'round', order: 3}
  ];
  if (o.triangles) {
    datasets.push({type: 'scatter', data: toPts(o.triangles), pointStyle: 'triangle', pointRotation: 180, pointRadius: 10, pointBackgroundColor: 'rgba(0,0,0,0)', pointBorderColor: '#000', pointBorderWidth: 1.8, order: 1});
  }
  return new Chart(document.getElementById(id), {
    type: 'scatter',
    data: {datasets: datasets},
    plugins: [boxPlugin],
    options: {
      responsive: false, animation: false, devicePixelRatio: 1,
      layout: {padding: {left: 5, right: 8, top: 0, bottom: 0}},
      plugins: {
        legend: {display: false}, tooltip: {enabled: false},
        filler: {drawTime: 'beforeDatasetDraw', propagate: false},
        title: {display: true, text: o.tag, align: 'start', color: '#000', font: {size: 27, weight: 'normal', lineHeight: 1.0}, padding: o.tagPad}
      },
      scales: {
        x: {
          type: 'linear', min: -3.95, max: 0.16,
          afterBuildTicks: s => { s.ticks = xTicks.map(v => ({value: v})); },
          afterFit: s => { s.height = o.xHeight; },
          grid: tickGrid, border: {display: false},
          ticks: {autoSkip: false, maxRotation: 0, padding: 0, font: {size: 26.5, lineHeight: 1.2}, color: '#000',
                  callback: v => o.showX ? xTickLabels[xTicks.indexOf(v)] : ''},
          title: {display: o.showX, text: ['FF age (Gya)', '[ Node distance ]'], color: '#000', font: {size: 27, lineHeight: 1.22}, padding: {top: 0, bottom: 5}}
        },
        y: {
          type: 'linear', min: o.ymin, max: o.ymax,
          afterBuildTicks: s => { s.ticks = o.yTicks.map(v => ({value: v})); },
          afterFit: s => { s.width = 125; },
          grid: tickGrid, border: {display: false},
          ticks: {autoSkip: false, minRotation: 90, maxRotation: 90, crossAlign: 'center', padding: o.yPad, font: {size: 26.5}, color: '#000', callback: v => String(v)},
          title: {display: true, text: o.ytitle, color: '#000', font: {size: 27, lineHeight: 1.0}, padding: {top: 20.5, bottom: 0}}
        }
      }
    }
  });
}

makePanel('ca', {
  points: [].concat(aUpperLeft, aCenterLeft, aLowerLeft, aNearStrip, aStrip, aStripDense, aUpperRight, aLowerRight, aRightDense, trianglesA),
  cx: curveXA, fit: fitA, upper: upperA, lower: lowerA, triangles: trianglesA,
  ymin: -0.26, ymax: 7.23, yTicks: yTicksA, yPad: 0,
  ytitle: ['Folding Time', '[Predicted Size Modified Contact Order]'],
  tag: 'a)', tagPad: {top: 4.5, bottom: -1.5}, xHeight: 21, showX: false
});
makePanel('cb', {
  points: [].concat(bUpperLeft, bCenterLeft, bLowerLeft, bNearStrip, bStrip, bStripDense, bUpperRight, bLowerRight, bRightDense),
  cx: curveXB, fit: fitB, upper: upperB, lower: lowerB,
  ymin: -16.2, ymax: 415.3, yTicks: yTicksB, yPad: -15,
  ytitle: ['Domain Size', '[Number of Amino-acid]'],
  tag: 'b)', tagPad: {top: 2.5, bottom: 5.5}, xHeight: 118, showX: true
});
</script></body></html>
